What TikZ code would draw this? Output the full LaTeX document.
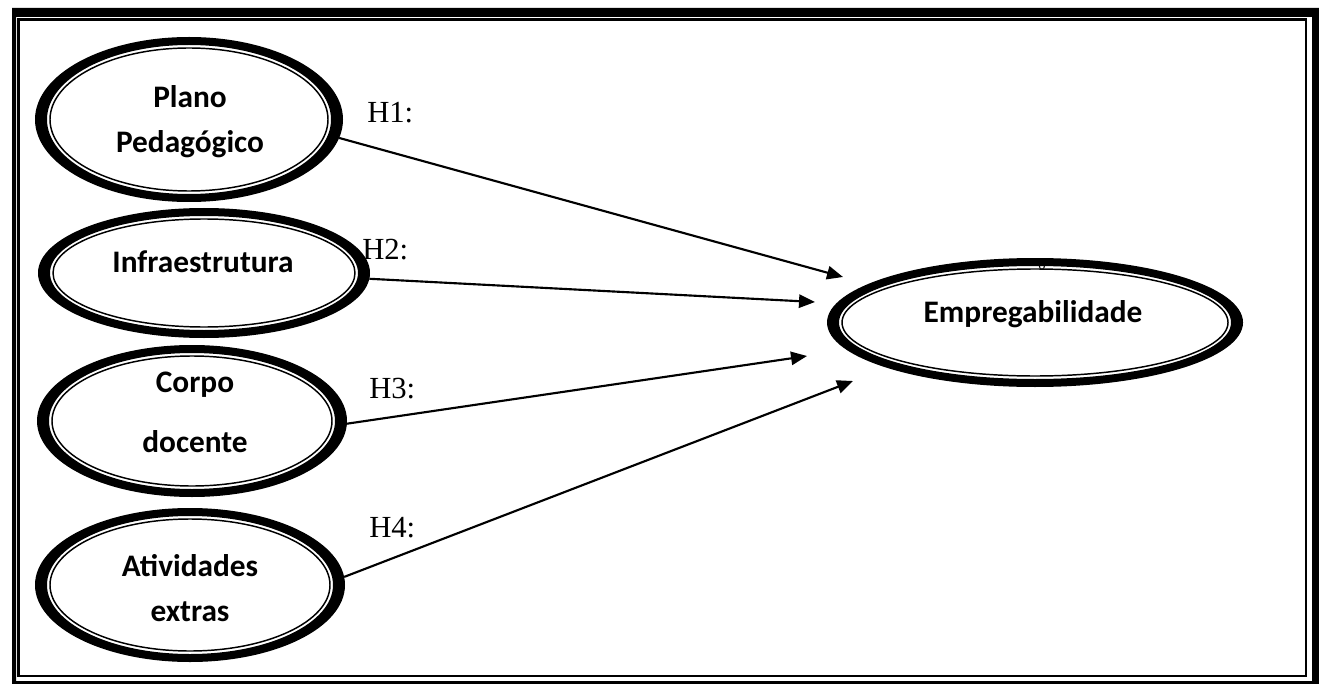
\documentclass[tikz,border=0pt]{standalone}
\usepackage{fontspec}
\setmainfont{Liberation Serif}
\newfontfamily\carlito{Carlito}
\usetikzlibrary{shapes.geometric,arrows.meta}

\tikzset{
  latent/.style={ellipse, draw=none, inner sep=0pt, outer sep=0pt},
  ring/.style={fill=black, even odd rule},
  innerline/.style={draw=black, line width=1.1pt},
  lbl/.style={font=\carlito\bfseries\fontsize{23.5}{33.75}\selectfont,
              align=center, anchor=base, inner sep=0pt},
  hyp/.style={font=\fontsize{23}{27}\selectfont, anchor=base west, inner sep=0pt},
  link/.style={line width=1.6pt, -{Triangle[length=12pt,width=10pt]}},
}

% latent variable: thick outer band plus thin inner line
% #1 name, #2 centre, #3 x radius, #4 y radius (pixel units)
\newcommand\latentvar[4]{%
  \node[latent, minimum width={#3*1.5pt}, minimum height={#4*1.5pt}] (#1) at (#2) {};
  \fill[ring] (#1.center) ellipse [x radius=#3, y radius=#4]
              (#1.center) ellipse [x radius=#3-12, y radius=#4-8];
  \draw[innerline] (#1.center) ellipse [x radius=#3-15, y radius=#4-11];
}

\begin{document}
\begin{tikzpicture}[x=0.75pt,y=-0.75pt]
\useasboundingbox (0,0) rectangle (1319,684);

% page frame: thick outer rule and thin inner rule
\fill[black, even odd rule] (12,8) rectangle (1319,684) (16,17) rectangle (1312,681);
\draw[line width=1.6pt] (18.5,19.5) rectangle (1306,676);

% stray glyph peeking under the outcome ellipse
\node[font=\fontsize{11}{12}\selectfont, anchor=base, inner sep=0pt] (mark) at (1042,269.5) {o};

% latent variables
\latentvar{pp}{189,119.5}{154}{82.5}
\latentvar{inf}{204,273}{166}{65}
\latentvar{cd}{192,421}{155}{76}
\latentvar{ae}{190,585}{155}{77}
\latentvar{emp}{1035,322.5}{208}{64.5}

% labels (multi-line nodes sit on the baseline of their last line)
\node[lbl] (pp-t)  at (190,153) {Plano\\Pedagógico};
\node[lbl] (inf-t) at (203,272) {Infraestrutura};
\node[lbl] (cd-t)  at (195,452) {Corpo\\[11pt]docente};
\node[lbl] (ae-t)  at (190,621) {Atividades\\extras};
\node[lbl] (emp-t) at (1033,322) {Empregabilidade};

% arrow end points
\coordinate (t1) at (843,277);
\coordinate (t2) at (815,302);
\coordinate (t3) at (807,356);
\coordinate (t4) at (853,381);

\draw[link] (pp.-7)    -- (t1);
\draw[link] (inf.-2)   -- (t2);
\draw[link] (cd.-1.5)  -- (t3);
\draw[link] (ae.3.7)   -- (t4);

% hypothesis labels
\node[hyp] (h1) at (367,123) {H1:};
\node[hyp] (h2) at (362,259) {H2:};
\node[hyp] (h3) at (369,398) {H3:};
\node[hyp] (h4) at (369,537) {H4:};
\end{tikzpicture}
\end{document}
